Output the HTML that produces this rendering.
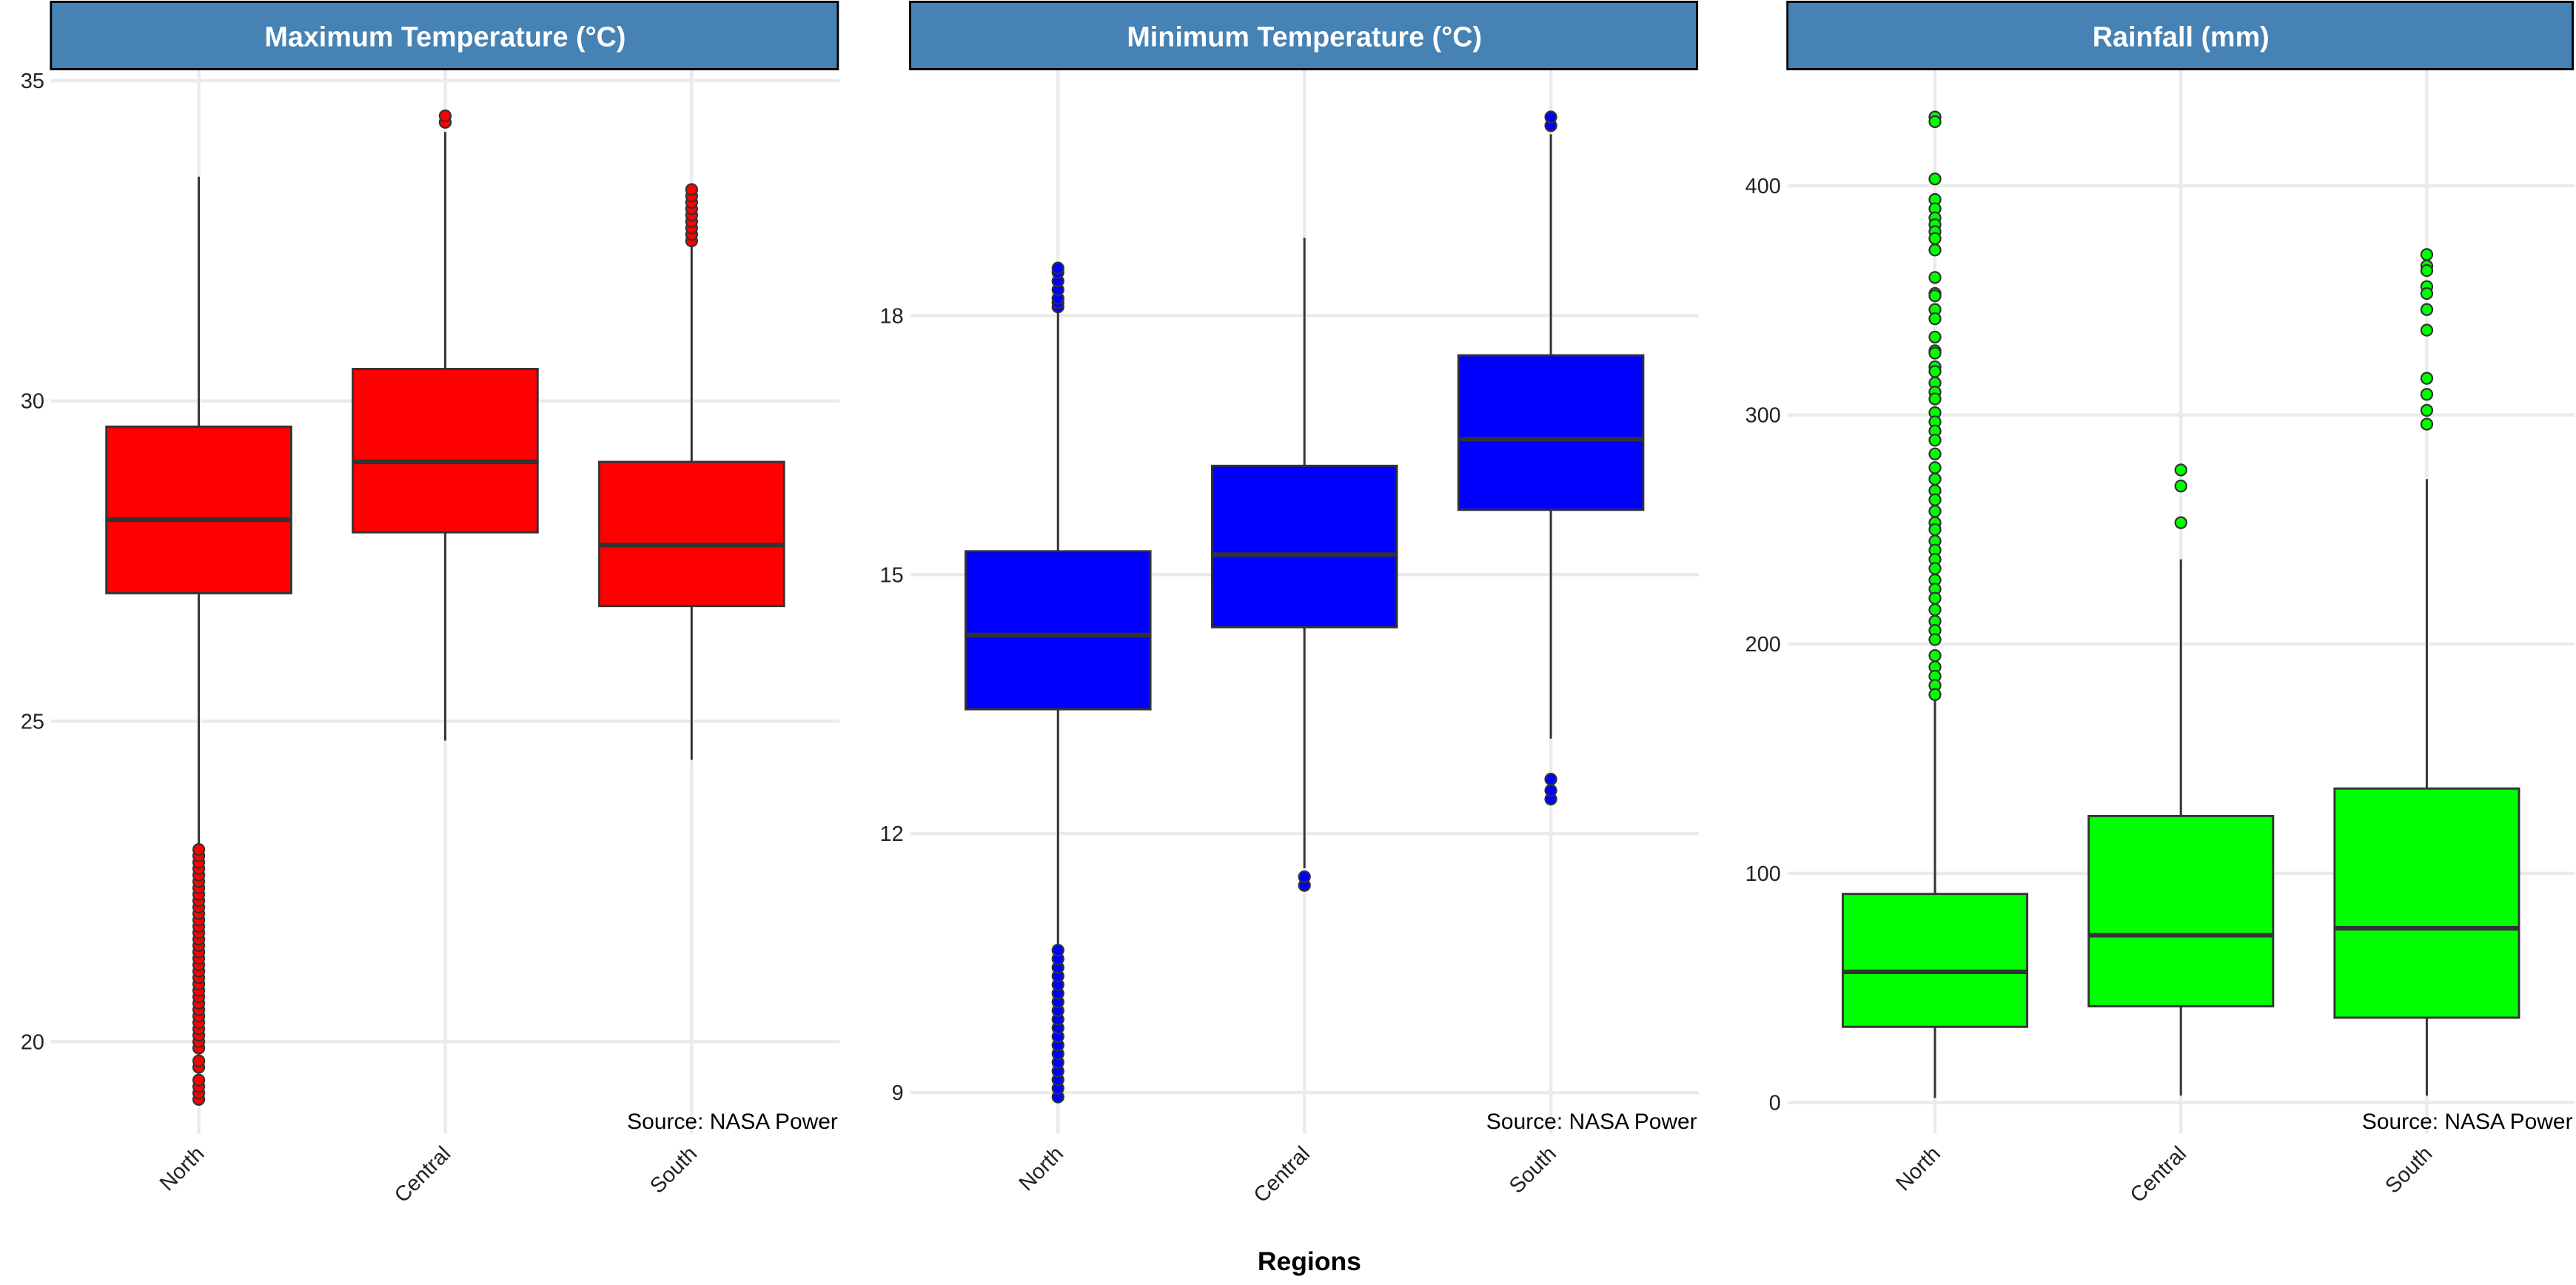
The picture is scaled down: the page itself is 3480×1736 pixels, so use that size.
<!DOCTYPE html>
<html><head><meta charset="utf-8"><style>
html,body{margin:0;padding:0;background:#fff;}
svg{display:block;font-family:"Liberation Sans",sans-serif;}
</style></head><body>
<svg id="chart" width="3480" height="1736" viewBox="0 0 1568 782" xmlns="http://www.w3.org/2000/svg">
<text x="797" y="773" text-anchor="middle" font-size="16" font-weight="bold" fill="#000">Regions</text>
</svg>
<script>
const categories = ["North", "Central", "South"];
const panelTitles = ["Maximum Temperature (°C)", "Minimum Temperature (°C)", "Rainfall (mm)"];
const tmaxTicks = [20, 25, 30, 35];
const tminTicks = [9, 12, 15, 18];
const rainTicks = [0, 100, 200, 300, 400];
// [lowerWhisker, q1, median, q3, upperWhisker] per region
const tmaxStats = [[23.0, 27.0, 28.15, 29.6, 33.5], [24.7, 27.95, 29.05, 30.5, 34.2], [24.4, 26.8, 27.75, 29.05, 32.4]];
const tminStats = [[10.7, 13.44, 14.3, 15.27, 18.05], [11.6, 14.39, 15.23, 16.26, 18.9], [13.1, 15.75, 16.57, 17.54, 20.1]];
const rainStats = [[2, 33, 57, 91, 177], [3, 42, 73, 125, 237], [3, 37, 76, 137, 272]];
const tmaxOutliers = [
  [19.1,19.2,19.3,19.4,19.6,19.7,19.9,20.0,20.1,20.2,20.3,20.4,20.5,20.6,20.7,20.8,20.9,21.0,21.1,21.2,21.3,21.4,21.5,21.6,21.7,21.8,21.9,22.0,22.1,22.2,22.3,22.4,22.5,22.6,22.7,22.8,22.9,23.0],
  [34.35,34.45],
  [32.5,32.6,32.7,32.8,32.9,33.0,33.1,33.2,33.3]
];
const tminOutliers = [
  [8.95,9.05,9.15,9.25,9.35,9.45,9.55,9.65,9.75,9.85,9.95,10.05,10.15,10.25,10.35,10.45,10.55,10.65,18.1,18.15,18.2,18.3,18.4,18.5,18.55],
  [11.4,11.5],
  [12.4,12.5,12.63,20.2,20.3]
];
const rainOutliers = [
  [430,428,403,394,390,386,383,380,377,372,360,353,352,346,342,334,328,327,321,319,314,310,307,301,297,293,289,283,277,272,267,263,258,253,250,245,241,237,233,228,224,220,215,210,206,202,195,190,186,182,178],
  [276,269,253],
  [370,365,363,356,353,346,337,316,309,302,296]
];
const panels = [
  {title: panelTitles[0], ticks: tmaxTicks, stats: tmaxStats, outliers: tmaxOutliers, x0: 31, x1: 511, v0: 35, p0: 49, v1: 20, p1: 634, fill: "#ff0000", key: "tmax"},
  {title: panelTitles[1], ticks: tminTicks, stats: tminStats, outliers: tminOutliers, x0: 554, x1: 1034, v0: 18, p0: 192, v1: 9, p1: 665, fill: "#0000ff", key: "tmin"},
  {title: panelTitles[2], ticks: rainTicks, stats: rainStats, outliers: rainOutliers, x0: 1088, x1: 1567, v0: 400, p0: 113, v1: 0, p1: 671, fill: "#00ff00", key: "rain"}
];
const NS = "http://www.w3.org/2000/svg";
const svg = document.getElementById("chart");
function mk(tag, attrs, parent) {
  const e = document.createElementNS(NS, tag);
  for (const k in attrs) e.setAttribute(k, attrs[k]);
  (parent || svg).appendChild(e);
  return e;
}
panels.forEach(p => {
  const g = mk("g", {});
  
  
  const yS = v => p.p0 + (v - p.v0) * (p.p1 - p.p0) / (p.v1 - p.v0);
  const unit = (p.x1 - p.x0) / 3.2;
  const xS = i => p.x0 + unit * (0.6 + i);
  const plotTop = 42, plotBottom = 690;
  p.ticks.forEach(t => {
    const l = mk("line", {x1: p.x0, x2: p.x1, y1: yS(t), y2: yS(t), stroke: "#ebebeb", "stroke-width": 2}, g);
    
    
    const tx = mk("text", {x: p.x0 - 4, y: yS(t) + 4.5, "text-anchor": "end", "font-size": 13, fill: "#222"}, g);
    tx.textContent = t;
    
    
  });
  categories.forEach((c, i) => {
    const l = mk("line", {x1: xS(i), x2: xS(i), y1: plotTop, y2: plotBottom, stroke: "#ebebeb", "stroke-width": 2}, g);
    
    
    const tx = mk("text", {x: 0, y: 0, "text-anchor": "end", "font-size": 13, fill: "#222", transform: `translate(${xS(i) + 4},${703}) rotate(-45)`}, g);
    tx.textContent = c;
    
    
  });
  const hr = mk("rect", {x: p.x0, y: 1, width: p.x1 - p.x0 - 1, height: 41, fill: "#4682b4", stroke: "#000", "stroke-width": 1.3}, g);
  
  
  const ht = mk("text", {x: (p.x0 + p.x1) / 2, y: 28, "text-anchor": "middle", "font-size": 17, "font-weight": "bold", fill: "#fff"}, g);
  ht.textContent = p.title;
  
  
  categories.forEach((c, i) => {
    const s = p.stats[i], cx = xS(i), hw = unit * 0.375;
    const w = mk("line", {x1: cx, x2: cx, y1: yS(s[0]), y2: yS(s[4]), stroke: "#333", "stroke-width": 1.3}, g);
    
    
    const b = mk("rect", {x: cx - hw, y: yS(s[3]), width: 2 * hw, height: yS(s[1]) - yS(s[3]), fill: p.fill, stroke: "#333", "stroke-width": 1.3}, g);
    
    
    const m = mk("line", {x1: cx - hw, x2: cx + hw, y1: yS(s[2]), y2: yS(s[2]), stroke: "#333", "stroke-width": 2.8}, g);
    
    
    p.outliers[i].forEach(v => {
      const o = mk("circle", {cx: cx, cy: yS(v), r: 3.4, fill: p.fill, stroke: "#333", "stroke-width": 1}, g);
      
      
    });
  });
  const src = mk("text", {x: p.x1 - 1, y: 687, "text-anchor": "end", "font-size": 13.5, fill: "#000"}, g);
  src.textContent = "Source: NASA Power";
  
  
});
</script>
</body></html>
